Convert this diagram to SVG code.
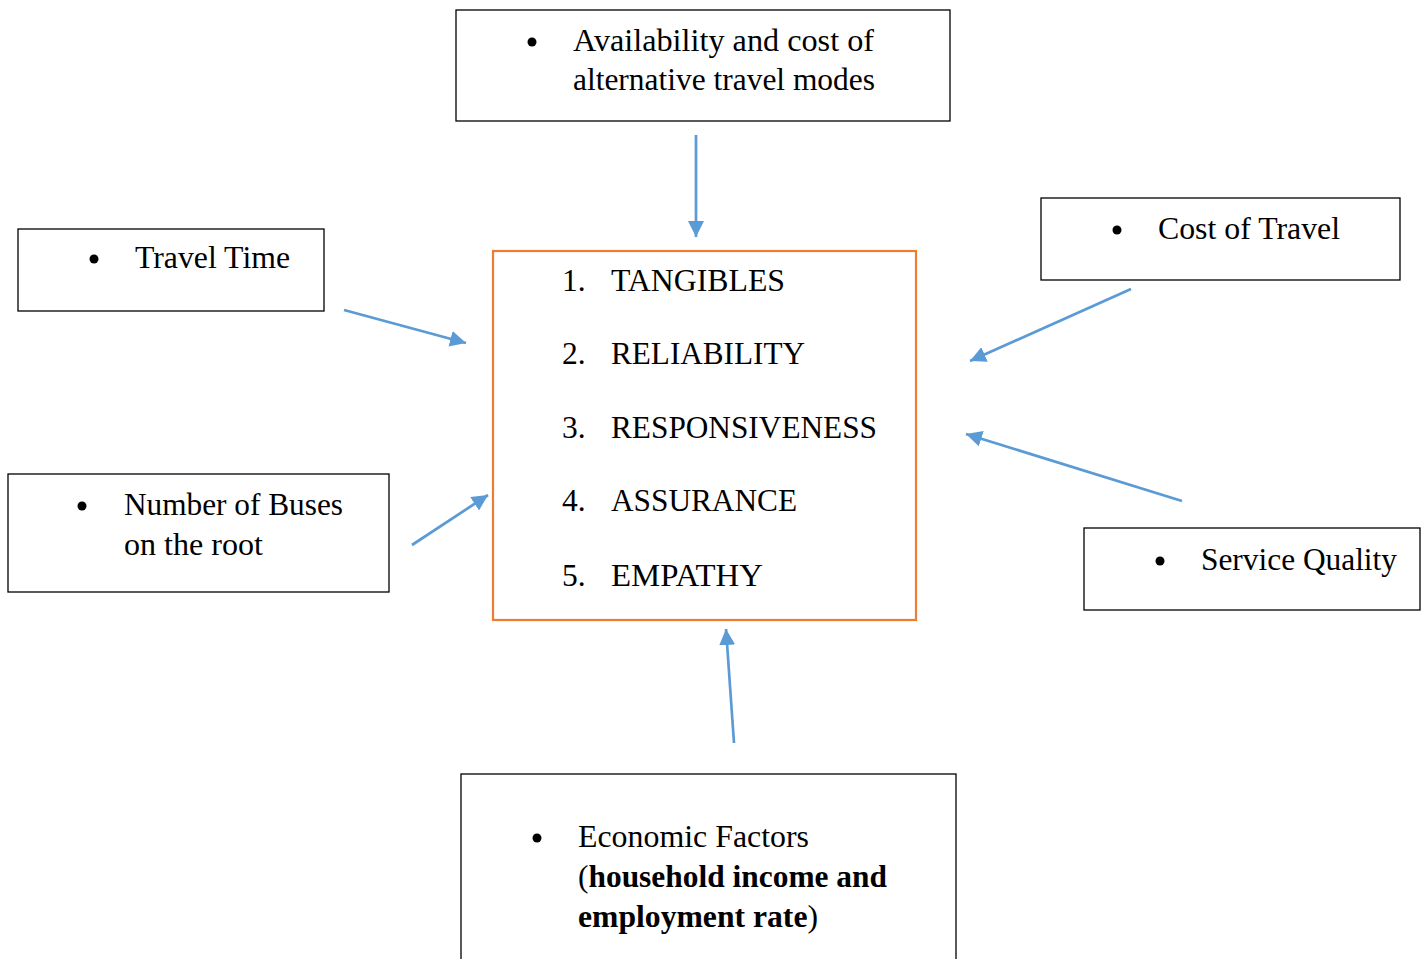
<svg xmlns="http://www.w3.org/2000/svg" width="1423" height="959" viewBox="0 0 1423 959">
<style>
.box{fill:#fff;stroke:#000;stroke-width:1.3}
.main{fill:#fff;stroke:#ED7D31;stroke-width:2.2}
text{font-family:"Liberation Serif","Times New Roman",serif;font-size:31.5px;fill:#000}
.b{font-weight:bold}
.conn{stroke:#5B9BD5;stroke-width:2.7;fill:none;marker-end:url(#ah)}
.dot{fill:#000}
</style>
<defs>
<marker id="ah" markerUnits="userSpaceOnUse" markerWidth="18" markerHeight="16" refX="16" refY="8" orient="auto">
<path d="M0,0 L16,8 L0,16 Z" fill="#5B9BD5"/>
</marker>
</defs>
<rect width="1423" height="959" fill="#fff"/>
<g id="connectors">
<line class="conn" x1="696" y1="135" x2="696" y2="237"/>
<line class="conn" x1="344" y1="310" x2="466" y2="343"/>
<line class="conn" x1="412" y1="545" x2="488" y2="495"/>
<line class="conn" x1="1131" y1="289" x2="970" y2="361"/>
<line class="conn" x1="1182" y1="501" x2="966" y2="434"/>
<line class="conn" x1="734" y1="743" x2="726" y2="629"/>
</g>
<g id="node-availability">
<rect class="box" x="456" y="10" width="494" height="111"/>
<circle class="dot" cx="532" cy="42" r="4.5"/>
<text x="573" y="51" textLength="301" lengthAdjust="spacingAndGlyphs">Availability and cost of</text>
<text x="573" y="90" textLength="302" lengthAdjust="spacingAndGlyphs">alternative travel modes</text>
</g>
<g id="node-travel-time">
<rect class="box" x="18" y="229" width="306" height="82"/>
<circle class="dot" cx="94" cy="259" r="4.5"/>
<text x="135" y="268" textLength="155" lengthAdjust="spacingAndGlyphs">Travel Time</text>
</g>
<g id="node-buses">
<rect class="box" x="8" y="474" width="381" height="118"/>
<circle class="dot" cx="82" cy="506" r="4.5"/>
<text x="124" y="515" textLength="219" lengthAdjust="spacingAndGlyphs">Number of Buses</text>
<text x="124" y="555" textLength="139" lengthAdjust="spacingAndGlyphs">on the root</text>
</g>
<g id="node-cost">
<rect class="box" x="1041" y="198" width="359" height="82"/>
<circle class="dot" cx="1117" cy="230" r="4.5"/>
<text x="1158" y="239" textLength="182" lengthAdjust="spacingAndGlyphs">Cost of Travel</text>
</g>
<g id="node-service">
<rect class="box" x="1084" y="528" width="336" height="82"/>
<circle class="dot" cx="1160" cy="561" r="4.5"/>
<text x="1201" y="570" textLength="196" lengthAdjust="spacingAndGlyphs">Service Quality</text>
</g>
<g id="node-center">
<rect class="main" x="493" y="251" width="423" height="369"/>
<text x="562" y="291">1.</text><text x="611" y="291" textLength="174" lengthAdjust="spacingAndGlyphs">TANGIBLES</text>
<text x="562" y="364">2.</text><text x="611" y="364" textLength="194" lengthAdjust="spacingAndGlyphs">RELIABILITY</text>
<text x="562" y="438">3.</text><text x="611" y="438" textLength="266" lengthAdjust="spacingAndGlyphs">RESPONSIVENESS</text>
<text x="562" y="511">4.</text><text x="611" y="511" textLength="186" lengthAdjust="spacingAndGlyphs">ASSURANCE</text>
<text x="562" y="586">5.</text><text x="611" y="586" textLength="152" lengthAdjust="spacingAndGlyphs">EMPATHY</text>
</g>
<g id="node-economic">
<rect class="box" x="461" y="774" width="495" height="200"/>
<circle class="dot" cx="537" cy="838" r="4.5"/>
<text x="578" y="847" textLength="231" lengthAdjust="spacingAndGlyphs">Economic Factors</text>
<text x="578" y="887" textLength="309" lengthAdjust="spacingAndGlyphs">(<tspan class="b">household income and</tspan></text>
<text x="578" y="927" textLength="240" lengthAdjust="spacingAndGlyphs"><tspan class="b">employment rate</tspan>)</text>
</g>
</svg>
